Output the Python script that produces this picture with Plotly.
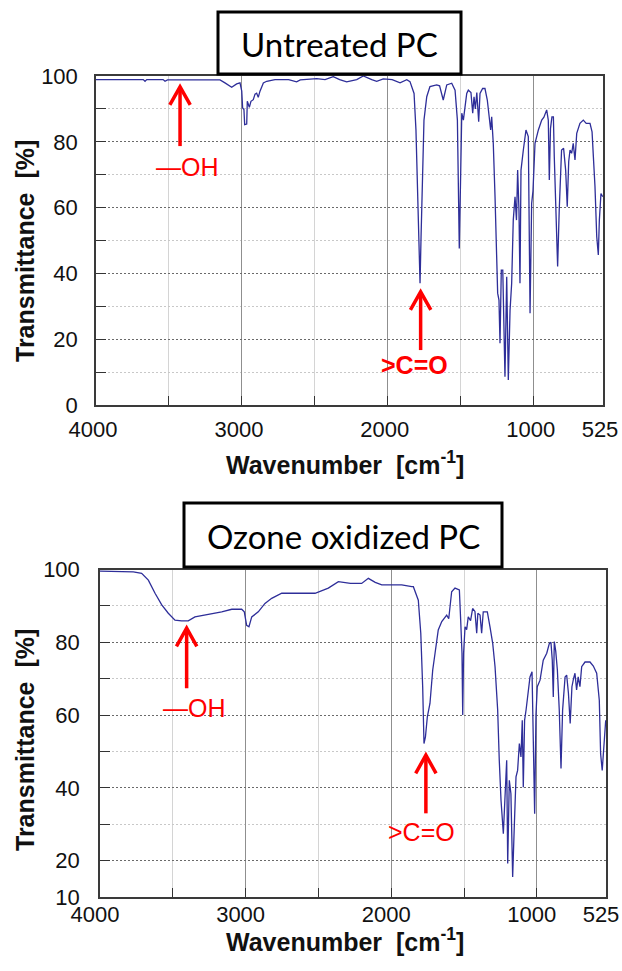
import plotly.graph_objects as go

# ---------------- data ----------------
untreated_wn = [4000, 3676, 3664, 3652, 3540, 3527, 3510, 3150, 3116, 3070, 3036, 3013, 3001, 2995,
                2986, 2981, 2967, 2963, 2949, 2938, 2922, 2910, 2899, 2888, 2876, 2853, 2830, 2773,
                2680, 2625, 2600, 2487, 2430, 2374, 2330, 2282, 2213, 2168, 2110, 2076, 2031, 1970,
                1916, 1870, 1848, 1820, 1807, 1791, 1779, 1772, 1761, 1752, 1733, 1711, 1665, 1645,
                1620, 1596, 1562, 1539, 1523, 1517, 1510, 1500, 1493, 1482, 1459, 1448, 1430, 1418,
                1409, 1400, 1390, 1377, 1368, 1350, 1334, 1318, 1304, 1295, 1288, 1277, 1265, 1254,
                1247, 1238, 1231, 1222, 1212, 1197, 1185, 1174, 1162, 1151, 1140, 1128, 1118, 1110,
                1101, 1094, 1087, 1071, 1053, 1037, 1025, 1014, 1005, 991, 968, 945, 930, 911, 900,
                893, 885, 875, 865, 859, 847, 836, 825, 809, 795, 781, 770, 760, 751, 740, 729, 717,
                705, 683, 660, 640, 614, 600, 591, 580, 568, 557, 550, 539, 527]
untreated_t = [98.9, 98.9, 98.4, 98.9, 98.9, 98.4, 98.8, 98.8, 97.9, 96.6, 97.6, 97.9, 95.4, 90.3,
               89.8, 85.2, 85.4, 92.3, 90.5, 92.3, 92.8, 94.5, 94.8, 93.5, 95.4, 97.9, 98.4, 98.9,
               98.9, 98.2, 98.8, 99.2, 98.9, 99.8, 98.9, 98.2, 98.9, 100.0, 98.9, 98.4, 99.1, 98.9,
               97.9, 98.9, 98.3, 94.7, 83.6, 59.3, 37.0, 51.2, 71.4, 86.6, 93.7, 96.8, 97.3, 97.0,
               92.7, 97.3, 97.8, 95.7, 86.6, 71.4, 47.6, 71.4, 88.7, 86.6, 94.7, 95.7, 95.0, 88.7,
               93.7, 90.0, 95.0, 86.1, 94.7, 96.2, 96.2, 92.7, 87.6, 83.6, 87.6, 79.5, 63.3, 49.1,
               34.0, 31.9, 18.8, 41.0, 41.0, 8.6, 39.0, 7.6, 28.9, 37.0, 56.2, 63.3, 56.2, 71.4,
               59.3, 37.0, 71.4, 77.5, 83.6, 81.6, 27.9, 61.3, 65.0, 79.5, 83.6, 86.6, 87.5, 89.7, 86.6,
               68.4, 84.0, 87.6, 87.6, 75.5, 59.3, 42.1, 59.3, 77.5, 78.0, 71.4, 60.3, 74.0, 77.5, 76.5, 79.5, 74.5,
               82.6, 85.6, 86.6, 85.6, 85.6, 83.0, 75.5, 66.4, 51.2, 45.6, 56.2, 64.3, 63.3]

ozone_wn = [4000, 3771, 3714, 3668, 3622, 3576, 3531, 3485, 3440, 3394, 3348, 3279, 3164, 3095,
            3027, 3009, 2993, 2977, 2958, 2913, 2867, 2821, 2752, 2661, 2523, 2432, 2363, 2280,
            2203, 2157, 2110, 2065, 1928, 1859, 1848, 1814, 1797, 1784, 1775, 1765, 1752, 1734,
            1715, 1699, 1677, 1653, 1619, 1605, 1585, 1562, 1532, 1523, 1514, 1509, 1503, 1493,
            1482, 1471, 1455, 1441, 1425, 1413, 1405, 1390, 1379, 1368, 1340, 1322, 1303, 1287,
            1269, 1258, 1246, 1230, 1219, 1207, 1200, 1189, 1178, 1166, 1155, 1143, 1132, 1120,
            1109, 1100, 1093, 1084, 1074, 1058, 1047, 1033, 1024, 1015, 1006, 997, 978, 956, 932,
            914, 903, 894, 887, 880, 870, 859, 846, 834, 823, 806, 795, 783, 771, 759, 748, 738,
            727, 716, 704, 692, 669, 635, 612, 589, 571, 562, 551, 541, 532, 527]
ozone_t = [99.6, 99.4, 99.0, 97.1, 93.5, 90.3, 88.0, 86.1, 85.9, 85.9, 87.0, 87.5, 88.4, 89.1,
           89.1, 88.4, 84.7, 84.3, 87.0, 88.4, 90.7, 92.1, 93.5, 93.5, 93.5, 94.9, 96.7, 96.2,
           96.2, 97.6, 96.5, 95.8, 95.8, 95.3, 95.3, 91.6, 82.5, 67.8, 52.2, 54.0, 59.5, 63.2,
           72.4, 77.0, 83.4, 85.7, 87.5, 86.5, 93.9, 94.9, 94.4, 86.1, 77.0, 60.0, 77.0, 84.3,
           83.5, 87.0, 86.0, 89.3, 88.5, 82.5, 88.0, 87.5, 82.5, 88.4, 88.4, 84.3, 79.7, 73.3,
           61.4, 47.6, 36.6, 27.4, 38.4, 47.6, 19.2, 42.1, 38.4, 15.5, 29.2, 43.0, 44.8, 52.2,
           48.5, 58.6, 40.2, 58.6, 61.4, 66.0, 70.5, 71.9, 51.3, 32.9, 60.0, 67.8, 69.6, 75.1, 77.0,
           79.7, 80.0, 75.1, 65.0, 80.2, 77.5, 72.4, 61.4, 45.3, 61.4, 70.5, 71.0, 66.0, 57.7, 67.8, 70.0, 71.5,
           66.9, 70.5, 67.8, 73.3, 74.6, 74.6, 73.5, 71.5, 64.1, 49.4, 44.8, 51.0, 57.7, 58.6]

x_tickvals = [4000, 3000, 2000, 1000, 525]
x_ticktext = ["4000", "3000", "2000", "1000", "525"]
x_minor = [3500, 2500, 1500]
y1_tickvals = [0, 20, 40, 60, 80, 100]
y1_minor = [10, 30, 50, 70, 90]
y2_tickvals = [10, 20, 40, 60, 80, 100]
y2_minor = [30, 50, 70, 90]

titles = ["Untreated PC", "Ozone oxidized PC"]
# arrows: (wavenumber, tip T, tail T, label, label wn, label T, bold)
arrows_top = [(3424, 96.7, 78.7, "\u2014OH", 3373, 72.3, False),
              (1775, 34.4, 16.7, ">C=O", 1820, 12.2, True)]
arrows_bot = [(3405, 83.9, 67.4, "\u2014OH", 3351, 61.9, False),
              (1762, 49.0, 33.0, ">C=O", 1795, 27.8, False)]

# ---------------- layout helpers ----------------
W, H = 622, 971
def px(x):
    return x / W
def py(y):
    return 1 - y / H

LINE_COL = "#2e2e99"
TICKFONT = dict(family="Liberation Sans, Arial, sans-serif", size=22, color="#111111")

fig = go.Figure()
fig.add_trace(go.Scatter(x=untreated_wn, y=untreated_t, mode="lines",
                         line=dict(color=LINE_COL, width=1.3), xaxis="x", yaxis="y",
                         showlegend=False, hoverinfo="skip"))
fig.add_trace(go.Scatter(x=ozone_wn, y=ozone_t, mode="lines",
                         line=dict(color=LINE_COL, width=1.3), xaxis="x2", yaxis="y2",
                         showlegend=False, hoverinfo="skip"))

def xaxis_cfg(domain, anchor, standoff, shift):
    return dict(domain=domain, anchor=anchor, range=[4000, 525], tickmode="array",
                tickvals=x_tickvals, ticktext=x_ticktext, ticks="inside", ticklen=9,
                tickcolor="#333333", tickwidth=1, showgrid=True, gridcolor="#8f8f8f", gridwidth=1,
                minor=dict(tickvals=x_minor, ticks="inside", ticklen=9, tickcolor="#333333",
                           showgrid=True, gridcolor="#d4d4d4", gridwidth=1),
                showline=True, linecolor="#3a3a3a", linewidth=1.5, mirror=True, automargin=False,
                ticklabeloverflow="allow", ticklabelshift=shift,
                zeroline=False, tickfont=TICKFONT, ticklabelstandoff=standoff, fixedrange=True)

def yaxis_cfg(domain, anchor, rng, tv, minor, standoff):
    return dict(domain=domain, anchor=anchor, range=rng, tickmode="array", tickvals=tv,
                ticks="inside", ticklen=10, tickcolor="#333333", tickwidth=1,
                showgrid=True, gridcolor="#6a6a6a", gridwidth=1, griddash="2px,2px",
                minor=dict(tickvals=minor, ticks="inside", ticklen=10, tickcolor="#333333",
                           showgrid=True, gridcolor="#c8c8c8", gridwidth=1, griddash="2px,2px"),
                showline=True, linecolor="#3a3a3a", linewidth=1.5, mirror=True, automargin=False,
                zeroline=False, tickfont=TICKFONT, ticklabelstandoff=standoff, fixedrange=True)

fig.update_layout(
    width=W, height=H, autosize=False,
    margin=dict(l=0, r=0, t=0, b=0, pad=0),
    paper_bgcolor="white", plot_bgcolor="white",
    xaxis=xaxis_cfg([px(96), px(603)], "y", 4, 3),
    yaxis=yaxis_cfg([py(405), py(76)], "x", [0, 100], y1_tickvals, y1_minor, 12),
    xaxis2=xaxis_cfg([px(100), px(606)], "y2", -3, 5),
    yaxis2=yaxis_cfg([py(897), py(569.6)], "x2", [10, 100], y2_tickvals, y2_minor, 14),
)

shapes = []
annotations = []

# axis titles
bold_font = dict(family="Liberation Sans, Arial, sans-serif", size=25, color="#111111")
xtitle = "<b>Wavenumber\u00a0 [cm<sup>-1</sup>]</b>"
ytitle = "<b>Transmittance\u00a0 [%]</b>"
for (xx, yy) in [(345, 463), (345, 940)]:
    annotations.append(dict(text=xtitle, x=px(xx), y=py(yy), xref="paper", yref="paper",
                            showarrow=False, font=bold_font, xanchor="center", yanchor="middle"))
for (xx, yy) in [(25, 251), (25, 740)]:
    annotations.append(dict(text=ytitle, x=px(xx), y=py(yy), xref="paper", yref="paper",
                            showarrow=False, font=bold_font, textangle=-90,
                            xanchor="center", yanchor="middle"))

# title boxes
boxes = [(218, 461, 12, 74), (184, 502, 503, 567)]
for (x0, x1, y0, y1), t in zip(boxes, titles):
    shapes.append(dict(type="rect", xref="paper", yref="paper", x0=px(x0), x1=px(x1),
                       y0=py(y1), y1=py(y0), line=dict(color="black", width=3),
                       fillcolor="white", layer="above"))
    annotations.append(dict(text=t, x=px((x0 + x1) / 2), y=py((y0 + y1) / 2 + 1),
                            xref="paper", yref="paper", showarrow=False,
                            font=dict(family="Lato, sans-serif", size=33, color="black"),
                            xanchor="center", yanchor="middle"))

# red arrows
def add_arrows(items, xr, yr, dwn, dt):
    for (wn, tip, tail, label, lwn, lt, bold) in items:
        shapes.append(dict(type="line", xref=xr, yref=yr, x0=wn, x1=wn, y0=tail, y1=tip - 0.6,
                           line=dict(color="#ff0000", width=3.5)))
        shapes.append(dict(type="path", xref=xr, yref=yr,
                           path=f"M {wn + dwn},{tip - dt} L {wn},{tip} L {wn - dwn},{tip - dt}",
                           line=dict(color="#ff0000", width=3.5)))
        txt = f"<b>{label}</b>" if bold else label
        annotations.append(dict(text=txt, x=lwn, y=lt, xref=xr, yref=yr, showarrow=False,
                                font=dict(family="Liberation Sans, Arial, sans-serif", size=25,
                                          color="#ff0000"),
                                xanchor="center", yanchor="middle"))

add_arrows(arrows_top, "x", "y", 70, 5.5)
add_arrows(arrows_bot, "x2", "y2", 70, 5.0)

fig.update_layout(shapes=shapes, annotations=annotations)
fig.write_html("out.html")
